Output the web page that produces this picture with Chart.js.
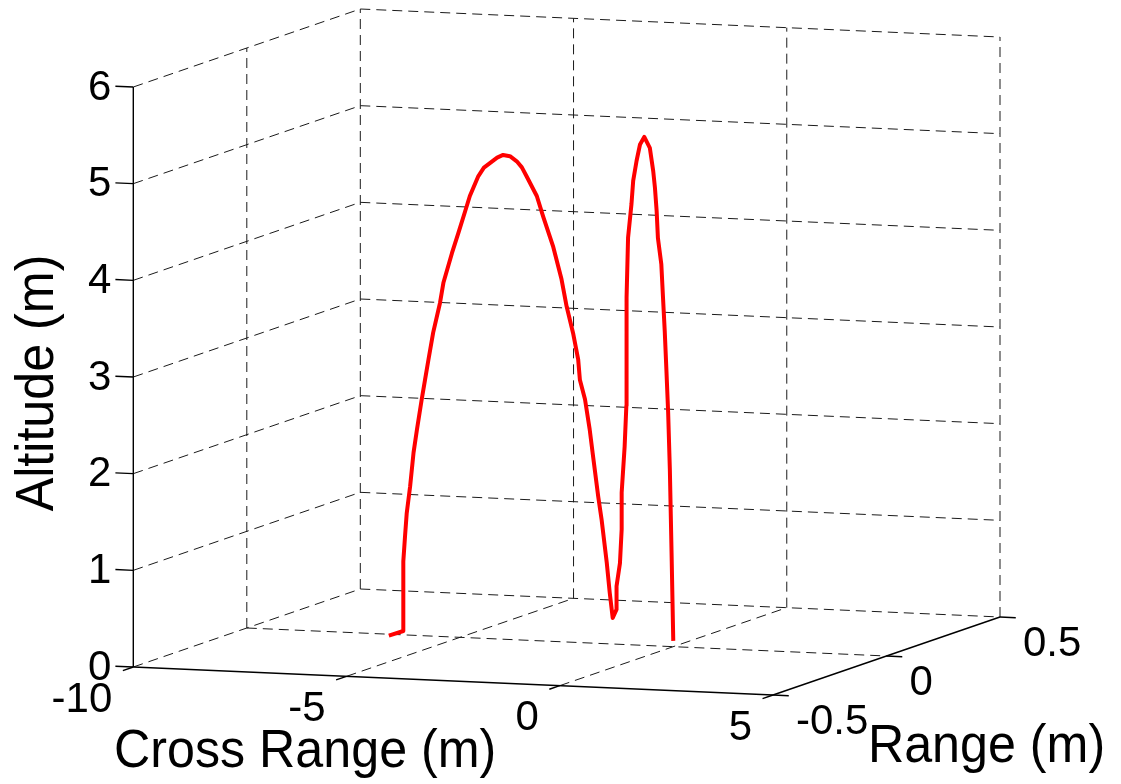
<!DOCTYPE html>
<html lang="en">
<head>
<meta charset="UTF-8">
<title>Trajectory - Cross Range / Range / Altitude</title>
<script src="https://cdn.jsdelivr.net/npm/chart.js"></script>
<style>
  html, body { margin: 0; padding: 0; background: #fff; }
  #wrap { width: 1121px; height: 784px; }
</style>
</head>
<body>
<div id="wrap"><canvas id="traj"></canvas></div>
<script>
  // trajectory samples (m)
  const crossRange = [-6.35, -6.33, -6.33, -6.29, -6.25, -6.17, -6.09, -6.01, -5.90, -5.82,
    -5.74, -5.63, -5.47, -5.39, -5.19, -5.04, -4.88, -4.77, -4.57, -4.44, -4.30, -4.13,
    -3.99, -3.83, -3.67, -3.55, -3.44, -3.20, -3.05, -2.82, -2.62, -2.50, -2.35, -2.23,
    -2.19, -2.07, -1.96, -1.88, -1.76, -1.68, -1.56, -1.49, -1.42, -1.33,
    -1.33, -1.25, -1.21, -1.21, -1.14, -1.10, -1.09, -1.10, -1.06, -0.98,
    -0.94, -0.86, -0.78, -0.68, -0.55, -0.47, -0.43, -0.39, -0.36, -0.28,
    -0.24, -0.20, -0.16, -0.12, -0.08, -0.04, 0.00];
  const range = [-0.06, 0, 0, 0, 0, 0, 0, 0, 0, 0,
    0, 0, 0, 0, 0, 0, 0, 0, 0, 0, 0, 0,
    0, 0, 0, 0, 0, 0, 0, 0, 0, 0, 0, 0,
    0, 0, 0, 0, 0, 0, 0, 0, 0, 0,
    0, 0, 0, 0, 0, 0, 0, 0, 0, 0,
    0, 0, 0, 0, 0, 0, 0, 0, 0, 0,
    0, 0, 0, 0, 0, 0, 0];
  const altitude = [0.04, 0.04, 0.76, 1.02, 1.26, 1.54, 1.89, 2.13, 2.44, 2.65,
    2.86, 3.14, 3.45, 3.66, 3.97, 4.18, 4.41, 4.57, 4.78, 4.87, 4.92, 4.98,
    5.01, 5.00, 4.95, 4.89, 4.80, 4.60, 4.39, 4.09, 3.75, 3.47, 3.20, 2.93,
    2.72, 2.52, 2.21, 1.93, 1.52, 1.28, 0.84, 0.53, 0.27, 0.36,
    0.60, 0.84, 1.19, 1.57, 2.05, 2.47, 2.74, 3.59, 4.21, 4.56,
    4.80, 5.01, 5.18, 5.26, 5.15, 4.91, 4.74, 4.50, 4.22, 3.95,
    3.60, 3.26, 2.85, 2.42, 1.83, 0.97, 0.06];

  const xLim = [-10, 5];
  const yLim = [-0.5, 0.5];
  const zLim = [0, 6];
  const xTicks = [-10, -5, 0, 5];
  const yTicks = [-0.5, 0, 0.5];
  const zTicks = [0, 1, 2, 3, 4, 5, 6];
  const xTickLabels = ['-10', '-5', '0', '5'];
  const yTickLabels = ['-0.5', '0', '0.5'];
  const zTickLabels = ['0', '1', '2', '3', '4', '5', '6'];

  // orthographic view: where the box corner sits and how each full axis span shows on screen
  const W = 1121, H = 784;
  const VIEW = {
    origin: [133.3, 117],
    ex: [639.7, -28],
    ey: [227, 78],
    ez: [0, 580]
  };

  function proj(x, y, z) {
    const a = (x - xLim[0]) / (xLim[1] - xLim[0]);
    const b = (y - yLim[0]) / (yLim[1] - yLim[0]);
    const c = (z - zLim[0]) / (zLim[1] - zLim[0]);
    return {
      x: VIEW.origin[0] + a * VIEW.ex[0] + b * VIEW.ey[0] + c * VIEW.ez[0],
      y: VIEW.origin[1] + a * VIEW.ex[1] + b * VIEW.ey[1] + c * VIEW.ez[1]
    };
  }

  const GRID = { borderColor: '#1a1a1a', borderWidth: 1, borderDash: [10, 6], order: 3 };
  const AXIS = { borderColor: '#000', borderWidth: 1.4, borderDash: [], order: 2 };

  function seg(p, q, style) {
    return Object.assign({
      data: [proj(...p), proj(...q)],
      showLine: true,
      pointRadius: 0,
      clip: false
    }, style);
  }

  const datasets = [];

  // grid on the floor, the back wall and the left wall
  xTicks.forEach(x => { if (x !== xLim[1]) datasets.push(seg([x, yLim[0], zLim[0]], [x, yLim[1], zLim[0]], GRID)); });
  yTicks.forEach(y => { if (y !== yLim[0]) datasets.push(seg([xLim[0], y, zLim[0]], [xLim[1], y, zLim[0]], GRID)); });
  xTicks.forEach(x => datasets.push(seg([x, yLim[1], zLim[0]], [x, yLim[1], zLim[1]], GRID)));
  zTicks.forEach(z => { if (z !== zLim[0]) datasets.push(seg([xLim[0], yLim[1], z], [xLim[1], yLim[1], z], GRID)); });
  yTicks.forEach(y => { if (y !== yLim[0] && y !== yLim[1]) datasets.push(seg([xLim[0], y, zLim[0]], [xLim[0], y, zLim[1]], GRID)); });
  zTicks.forEach(z => { if (z !== zLim[0]) datasets.push(seg([xLim[0], yLim[0], z], [xLim[0], yLim[1], z], GRID)); });

  // axis lines and tick marks
  datasets.push(seg([xLim[0], yLim[0], zLim[0]], [xLim[0], yLim[0], zLim[1]], AXIS));
  datasets.push(seg([xLim[0], yLim[0], zLim[0]], [xLim[1], yLim[0], zLim[0]], AXIS));
  datasets.push(seg([xLim[1], yLim[0], zLim[0]], [xLim[1], yLim[1], zLim[0]], AXIS));
  zTicks.forEach(z => datasets.push(seg([xLim[0], yLim[0], z], [xLim[0] - 0.42, yLim[0], z], AXIS)));
  xTicks.forEach(x => datasets.push(seg([x, yLim[0], zLim[0]], [x, yLim[0] - 0.046, zLim[0]], AXIS)));
  yTicks.forEach(y => datasets.push(seg([xLim[1], y, zLim[0]], [xLim[1] + 0.37, y, zLim[0]], AXIS)));

  // the flight path
  datasets.push({
    data: crossRange.map((x, i) => proj(x, range[i], altitude[i])),
    showLine: true,
    pointRadius: 0,
    borderColor: '#ff0000',
    borderWidth: 4,
    borderJoinStyle: 'round',
    clip: false,
    order: 0
  });

  const FONT = '"Liberation Sans", Arial, Helvetica, sans-serif';

  const axisText = {
    id: 'axisText',
    afterDatasetsDraw(chart) {
      const ctx = chart.ctx;
      const sx = chart.scales.x, sy = chart.scales.y;
      const px = (x, y, z) => {
        const p = proj(x, y, z);
        return [sx.getPixelForValue(p.x), sy.getPixelForValue(p.y)];
      };
      ctx.save();
      ctx.fillStyle = '#000';
      ctx.font = '42px ' + FONT;

      ctx.textAlign = 'right';
      ctx.textBaseline = 'middle';
      zTicks.forEach((z, i) => {
        const [a, b] = px(xLim[0], yLim[0], z);
        ctx.fillText(zTickLabels[i], a - 22, b + 1);
      });
      xTicks.forEach((x, i) => {
        const [a, b] = px(x, yLim[0], zLim[0]);
        ctx.fillText(xTickLabels[i], a - 21, b + 33);
      });
      ctx.textAlign = 'left';
      yTicks.forEach((y, i) => {
        const [a, b] = px(xLim[1], y, zLim[0]);
        ctx.fillText(yTickLabels[i], a + 23, b + 27);
      });

      // axis titles
      ctx.font = '54px ' + FONT;
      ctx.textAlign = 'center';
      ctx.textBaseline = 'alphabetic';
      let [a, b] = px((xLim[0] + xLim[1]) / 2, yLim[0], zLim[0]);
      ctx.save();
      ctx.translate(a - 148, b + 86);
      ctx.scale(0.93, 1);
      ctx.fillText('Cross Range (m)', 0, 0);
      ctx.restore();

      [a, b] = px(xLim[1], (yLim[0] + yLim[1]) / 2, zLim[0]);
      ctx.save();
      ctx.translate(a + 100, b + 106);
      ctx.scale(0.93, 1);
      ctx.fillText('Range (m)', 0, 0);
      ctx.restore();

      [a, b] = px(xLim[0], yLim[0], (zLim[0] + zLim[1]) / 2);
      ctx.save();
      ctx.translate(a - 80, b + 6);
      ctx.rotate(-Math.PI / 2);
      ctx.scale(0.93, 1);
      ctx.fillText('Altitude (m)', 0, 0);
      ctx.restore();

      ctx.restore();
    }
  };

  new Chart(document.getElementById('traj'), {
    type: 'scatter',
    data: { datasets: datasets },
    options: {
      responsive: true,
      maintainAspectRatio: false,
      animation: false,
      events: [],
      layout: { padding: 0 },
      scales: {
        x: { type: 'linear', min: 0, max: W, display: false },
        y: { type: 'linear', min: 0, max: H, display: false }
      },
      plugins: {
        legend: { display: false },
        tooltip: { enabled: false }
      }
    },
    plugins: [axisText]
  });
</script>
</body>
</html>
